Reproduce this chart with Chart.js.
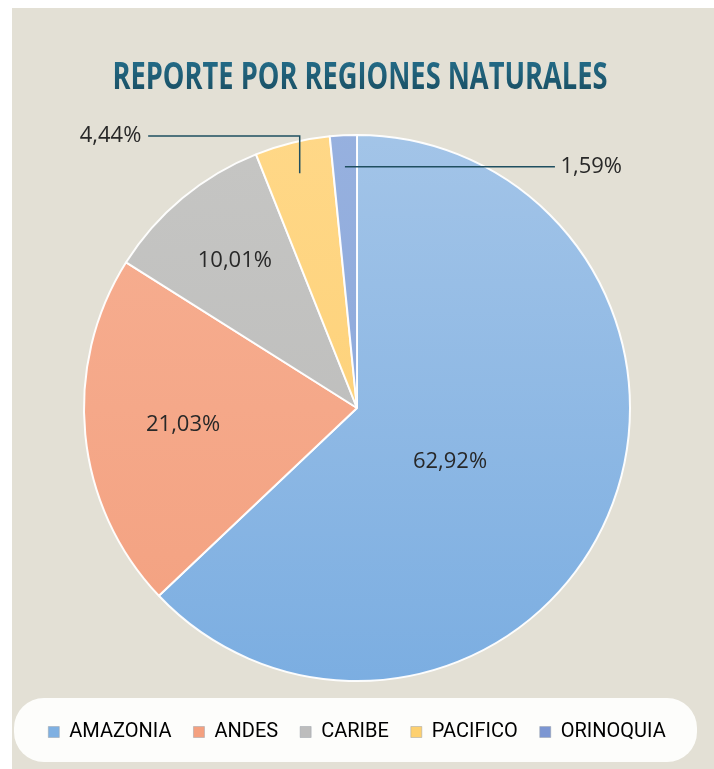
<!DOCTYPE html>
<html>
<head>
<meta charset="utf-8">
<title>Reporte por regiones naturales</title>
<script src="https://cdn.jsdelivr.net/npm/chart.js@4/dist/chart.umd.min.js"></script>
<style>
  html, body { margin: 0; padding: 0; background: #fff; }
  #bg { position: absolute; left: 12px; top: 8px; right: 0; bottom: 0; background: #e3e0d5; }
  #wrap { position: absolute; left: 0; top: 0; width: 714px; height: 769px; }
</style>
</head>
<body>
<div id="bg"></div>
<div id="wrap"><canvas id="c"></canvas></div>
<script>
/* Reporte por regiones naturales — pie, % share per natural region. */
const TITLE = "REPORTE POR REGIONES NATURALES";
const REGIONS = ["AMAZONIA", "ANDES", "CARIBE", "PACIFICO", "ORINOQUIA"];
const SHARE = [62.92, 21.03, 10.01, 4.44, 1.59];
const LABELS = ["62,92%", "21,03%", "10,01%", "4,44%", "1,59%"];
// [top, bottom] of each slice's vertical gradient
const FILL = [["#a4c5e8", "#7aade1"], ["#f7b093", "#f3a07f"], ["#c6c6c4", "#b9b9b8"],
              ["#ffd888", "#fccd70"], ["#97b1df", "#86a3d8"]];
const LEGEND_FILL = ["#7fb0e2", "#f4a07f", "#bdbdbd", "#fdd06f", "#7c96d2"];

/* ---- title: condensed bold (no Calibri here, so squeeze Open Sans to the same width) ---- */
const titlePlugin = {
  id: "condTitle",
  afterDraw(chart) {
    const ctx = chart.ctx;
    ctx.save();
    ctx.font = "bold 38px 'Open Sans', sans-serif";
    const w = ctx.measureText(TITLE).width, sx = 495 / w;
    ctx.translate(chart.width / 2 + 3, 89);
    ctx.scale(sx, 1);
    const g = ctx.createLinearGradient(0, -27, 0, 0);
    g.addColorStop(0, "#236a86"); g.addColorStop(1, "#1b5267");
    ctx.fillStyle = g;
    ctx.textAlign = "center";
    ctx.textBaseline = "alphabetic";
    ctx.fillText(TITLE, 0, 0);
    ctx.restore();
  },
};

/* ---- label placement: [radial factor, angle nudge] inside; callouts for the two small slices ---- */
const INSIDE = { 0: [0.394, 0.12], 1: [0.64, 0], 2: [0.70, 0] };

const labelsPlugin = {
  id: "sliceLabels",
  afterDatasetsDraw(chart) {
    const ctx = chart.ctx;
    const arcs = chart.getDatasetMeta(0).data;
    ctx.save();
    ctx.font = "22px 'Open Sans', sans-serif";
    ctx.fillStyle = "#282828";
    ctx.textBaseline = "middle";
    arcs.forEach((a, i) => {
      const { x, y, startAngle, endAngle, outerRadius: r } = a.getProps(["x", "y", "startAngle", "endAngle", "outerRadius"], true);
      const mid = (startAngle + endAngle) / 2;
      if (INSIDE[i]) {
        const [f, da] = INSIDE[i];
        ctx.textAlign = "center";
        ctx.fillText(LABELS[i], x + Math.cos(mid + da) * r * f, y + Math.sin(mid + da) * r * f);
        return;
      }
      const px = x + Math.cos(mid) * r * 0.885, py = y + Math.sin(mid) * r * 0.885;
      ctx.strokeStyle = "#1f4f60";
      ctx.lineWidth = 1.5;
      ctx.beginPath();
      if (i === 3) {          // PACIFICO: up, then left
        const ey = y - r + 1;
        ctx.moveTo(px, py); ctx.lineTo(px, ey); ctx.lineTo(x - r * 0.765, ey);
        ctx.stroke();
        ctx.textAlign = "right";
        ctx.fillText(LABELS[i], x - r * 0.79, ey);
      } else {                // ORINOQUIA: straight right
        ctx.moveTo(px, py); ctx.lineTo(x + r * 0.725, py);
        ctx.stroke();
        ctx.textAlign = "left";
        ctx.fillText(LABELS[i], x + r * 0.745, py);
      }
    });
    ctx.restore();
  },
};

/* ---- white pill behind the legend ---- */
const legendBox = {
  id: "legendBox",
  beforeDraw(chart) {
    const L = chart.legend, ctx = chart.ctx;
    if (!L) return;
    const x0 = 14, x1 = chart.width - 17, y0 = L.top - 2, y1 = L.bottom + 10;
    ctx.save();
    ctx.fillStyle = "#fdfdfb";
    ctx.beginPath();
    ctx.roundRect(x0, y0, x1 - x0, y1 - y0, 30);
    ctx.fill();
    ctx.restore();
  },
};

function sliceFill(c) {
  const area = c.chart.chartArea;
  if (!area) return FILL[c.dataIndex][0];
  const g = c.chart.ctx.createLinearGradient(0, area.top, 0, area.bottom);
  g.addColorStop(0, FILL[c.dataIndex][0]);
  g.addColorStop(1, FILL[c.dataIndex][1]);
  return g;
}

new Chart(document.getElementById("c"), {
  type: "pie",
  data: {
    labels: REGIONS,
    datasets: [{
      data: SHARE,
      backgroundColor: sliceFill,
      borderColor: "rgba(255,255,255,0.95)",
      borderWidth: 2,
      radius: 273,
    }],
  },
  options: {
    responsive: true, maintainAspectRatio: false, animation: false,
    layout: { padding: { top: 116, bottom: 17, left: 0, right: 0 } },
    plugins: {
      title: { display: false },
      legend: {
        position: "bottom",
        labels: {
          color: "#595959", boxWidth: 11, boxHeight: 11, padding: 22,
          font: { family: "Roboto, sans-serif", size: 20 },
          generateLabels: ch => REGIONS.map((t, i) => ({
            text: t, fillStyle: LEGEND_FILL[i], strokeStyle: "#9aa0a8", lineWidth: 0.5, index: i,
          })),
        },
      },
      tooltip: { callbacks: { label: c => `${c.label}: ${LABELS[c.dataIndex]}` } },
    },
  },
  plugins: [legendBox, labelsPlugin, titlePlugin],
});
</script>
</body>
</html>
